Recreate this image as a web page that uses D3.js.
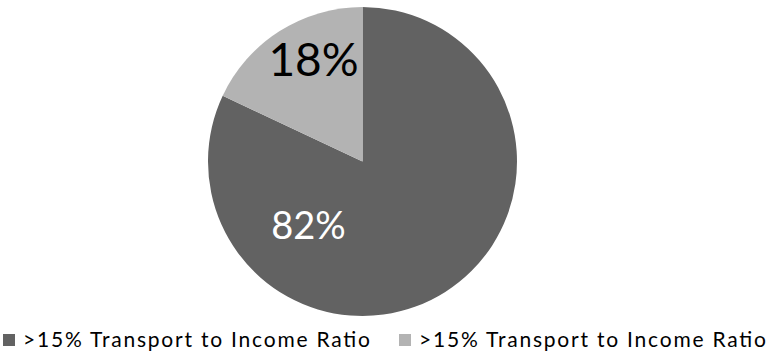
<!DOCTYPE html>
<html>
<head>
<meta charset="utf-8">
<script src="https://cdn.jsdelivr.net/npm/d3@7/dist/d3.min.js"></script>
<style>
  html, body { margin: 0; padding: 0; background: #ffffff; overflow: hidden; }
  svg { display: block; }
</style>
</head>
<body>
<svg id="chart" width="767" height="354"></svg>
<script>
// Share of households by transport-to-income ratio
const categories = [">15% Transport to Income Ratio", ">15% Transport to Income Ratio"];
const values = [82, 18];
const valueLabels = ["82%", "18%"];
const colors = ["#626262", "#b3b3b3"];

const width = 767, height = 354;
const cx = 362.5, cy = 161.5, radius = 154.5;

const svg = d3.select("#chart");

const pie = d3.pie().sort(null).value(d => d.value);
const arc = d3.arc().innerRadius(0).outerRadius(radius);

const data = categories.map((c, i) => ({ name: c, value: values[i], label: valueLabels[i], color: colors[i] }));
const arcs = pie(data);

const g = svg.append("g").attr("transform", `translate(${cx},${cy})`);

g.selectAll("path.slice")
  .data(arcs)
  .join("path")
  .attr("class", "slice")
  .attr("d", arc)
  .attr("fill", d => d.data.color);

// Label placement inside each slice (offset from centre, font size, colour)
const labelStyle = [
  { dx: -54, dy: 77, size: 38, fill: "#ffffff" },
  { dx: -49, dy: -86, size: 46, fill: "#000000" }
];

g.selectAll("text.val")
  .data(arcs)
  .join("text")
  .attr("class", "val")
  .attr("x", (d, i) => labelStyle[i].dx)
  .attr("y", (d, i) => labelStyle[i].dy)
  .attr("text-anchor", "middle")
  .attr("font-family", "Lato, 'Open Sans', sans-serif")
  .attr("font-size", (d, i) => labelStyle[i].size)
  .attr("fill", (d, i) => labelStyle[i].fill)
  .text(d => d.data.label);

// Legend along the bottom
const legendX = [3, 399];
const legend = svg.append("g");
const items = legend.selectAll("g.item")
  .data(data)
  .join("g")
  .attr("class", "item")
  .attr("transform", (d, i) => `translate(${legendX[i]},334)`);

items.append("rect")
  .attr("width", 12).attr("height", 12)
  .attr("fill", d => d.color);

items.append("text")
  .attr("x", 20)
  .attr("y", 13)
  .attr("font-family", "Lato, 'Open Sans', sans-serif")
  .attr("font-size", 21)
  .attr("textLength", 347)
  .attr("lengthAdjust", "spacing")
  .attr("fill", "#000000")
  .text(d => d.name);
</script>
</body>
</html>
